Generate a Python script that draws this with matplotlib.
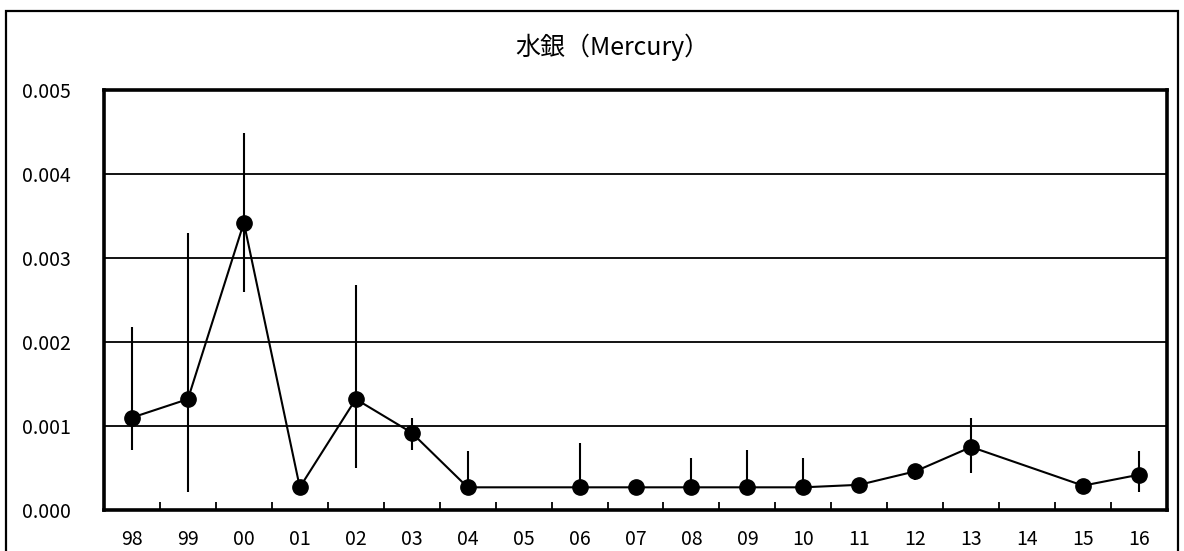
import numpy as np
import matplotlib.pyplot as plt
from matplotlib.patches import Rectangle

plt.rcParams['font.family'] = ['Noto Sans CJK JP', 'DejaVu Sans']

years = ['98', '99', '00', '01', '02', '03', '04', '05', '06', '07',
         '08', '09', '10', '11', '12', '13', '14', '15', '16']
mean = [0.00110, 0.00132, 0.00342, 0.00027, 0.00132, 0.00092, 0.00027, np.nan,
        0.00027, 0.00027, 0.00027, 0.00027, 0.00027, 0.00030, 0.00046, 0.00075,
        np.nan, 0.00029, 0.00042]
hi = [0.00218, 0.00330, 0.00449, 0.00027, 0.00268, 0.00110, 0.00070, np.nan,
      0.00080, 0.00027, 0.00062, 0.00071, 0.00062, 0.00030, 0.00053, 0.00110,
      np.nan, 0.00029, 0.00070]
lo = [0.00071, 0.00021, 0.00260, 0.00027, 0.00050, 0.00071, 0.00027, np.nan,
      0.00027, 0.00027, 0.00027, 0.00027, 0.00027, 0.00030, 0.00036, 0.00044,
      np.nan, 0.00029, 0.00021]

x = np.arange(len(years))
m = np.array(mean)
ok = ~np.isnan(m)

fig = plt.figure(figsize=(11.84, 5.51), dpi=100)
ax = fig.add_axes([104/1184, 1 - 510/551, (1167-104)/1184, (510-90)/551])

# outer frame
fig.patches.append(Rectangle((6/1184, -0.05), 1172/1184, 1 - 11/551 + 0.05,
                             transform=fig.transFigure, fill=False,
                             edgecolor='black', linewidth=1.6))

ax.vlines(x[ok], np.array(lo)[ok], np.array(hi)[ok], color='black', linewidth=1.5, zorder=2)
ax.plot(x[ok], m[ok], color='black', linewidth=1.5, marker='o', markersize=11, zorder=3)

ax.set_xlim(-0.5, len(years) - 0.5)
ax.set_ylim(0, 0.005)
ax.set_yticks(np.arange(0, 0.0051, 0.001))
ax.set_yticklabels(['%.3f' % v for v in np.arange(0, 0.0051, 0.001)])
ax.yaxis.grid(True, color='black', linewidth=1.3)
ax.set_axisbelow(True)
ax.tick_params(axis='y', length=0, labelsize=14, pad=24)

ax.set_xticks(x)
ax.set_xticklabels(years)
ax.set_xticks(np.arange(0.5, len(years) - 1, 1), minor=True)
ax.tick_params(axis='x', which='major', length=0, labelsize=14, pad=14)
ax.tick_params(axis='x', which='minor', direction='in', length=6, width=1.3)

for s in ax.spines.values():
    s.set_linewidth(2.6)

fig.text(612/1184, 1 - 47/551, '水銀（Mercury）', ha='center', va='center', fontsize=18)

fig.savefig('out.png', dpi=100)
